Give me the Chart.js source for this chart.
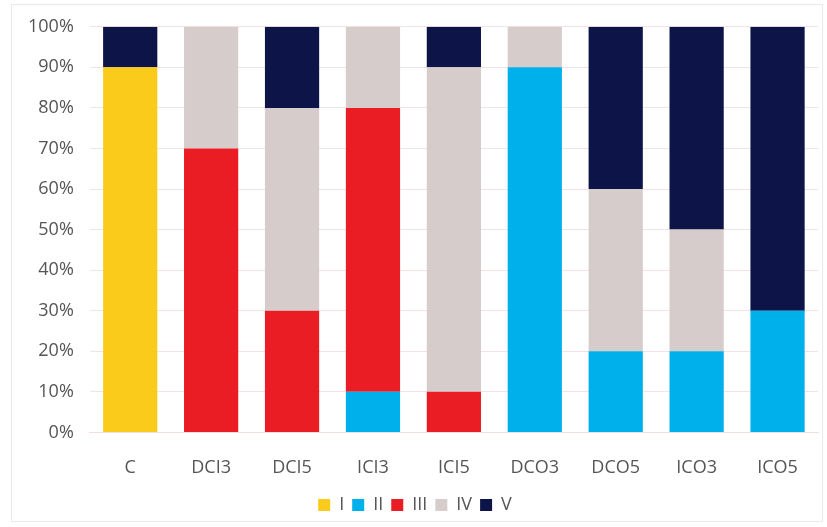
<!DOCTYPE html>
<html>
<head>
<meta charset="utf-8">
<script src="https://cdn.jsdelivr.net/npm/chart.js@4"></script>
<style>
  body { margin: 0; background: #fff; }
  #frame { position: absolute; left: 11px; top: 4px; width: 810px; height: 516px; border: 1px solid #f3e6e6; }
  #barChart { position: absolute; left: 0; top: 0; }
</style>
</head>
<body>
<div id="frame"></div>
<canvas id="barChart" width="827" height="527"></canvas>
<script>
const categories = ["C", "DCI3", "DCI5", "ICI3", "ICI5", "DCO3", "DCO5", "ICO3", "ICO5"];
const seriesI   = [90, 0, 0, 0, 0, 0, 0, 0, 0];
const seriesII  = [0, 0, 0, 10, 0, 90, 20, 20, 30];
const seriesIII = [0, 70, 30, 70, 10, 0, 0, 0, 0];
const seriesIV  = [0, 30, 50, 20, 80, 10, 40, 30, 0];
const seriesV   = [10, 0, 20, 0, 10, 0, 40, 50, 70];
const yTicks = [0, 10, 20, 30, 40, 50, 60, 70, 80, 90, 100];

const ctx = document.getElementById("barChart").getContext("2d");
const font = { family: "Open Sans", size: 18 };

new Chart(ctx, {
  type: "bar",
  data: {
    labels: categories,
    datasets: [
      { label: "I", data: seriesI, backgroundColor: "#fbcb1c" },
      { label: "II", data: seriesII, backgroundColor: "#00b0ea" },
      { label: "III", data: seriesIII, backgroundColor: "#ea1d25" },
      { label: "IV", data: seriesIV, backgroundColor: "#d6cccb" },
      { label: "V", data: seriesV, backgroundColor: "#0c1448" }
    ]
  },
  options: {
    responsive: false,
    animation: false,
    layout: { padding: { left: 12, right: 9, top: 4, bottom: 3 } },
    datasets: { bar: { categoryPercentage: 0.67, barPercentage: 1 } },
    scales: {
      x: {
        stacked: true,
        grid: { display: false },
        border: { color: "#f3dede" },
        ticks: { color: "#555", font: font, padding: 17 },
        afterFit: scale => { scale.height -= 8; }
      },
      y: {
        stacked: true,
        min: 0,
        max: 100,
        afterBuildTicks: axis => { axis.ticks = yTicks.map(v => ({ value: v })); },
        grid: { color: "#f6e2e2", drawTicks: false },
        border: { display: false },
        ticks: {
          color: "#555",
          font: font,
          padding: 16,
          callback: v => v + "%"
        }
      }
    },
    plugins: {
      legend: {
        position: "bottom",
        labels: {
          color: "#555",
          font: font,
          boxWidth: 12,
          boxHeight: 12,
          padding: 8
        }
      },
      tooltip: { enabled: false }
    }
  }
});
</script>
</body>
</html>
